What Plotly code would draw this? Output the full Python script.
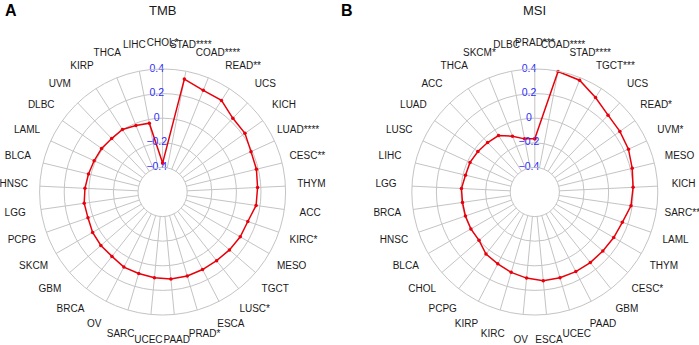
import plotly.graph_objects as go

# ---------------- data ----------------
tmb_categories = ["CHOL*", "STAD****", "COAD****", "READ**", "UCS", "KICH", "LUAD****",
                  "CESC**", "THYM", "ACC", "KIRC*", "MESO", "TGCT", "LUSC*", "ESCA",
                  "PRAD*", "PAAD", "UCEC", "SARC", "OV", "BRCA", "GBM", "SKCM", "PCPG",
                  "LGG", "HNSC", "BLCA", "LAML", "DLBC", "UVM", "KIRP", "THCA", "LIHC"]
tmb_values = [-0.365, 0.335, 0.29, 0.285, 0.228, 0.222, 0.19, 0.185, 0.173, 0.168,
              0.133, 0.129, 0.119, 0.11, 0.109, 0.112, 0.11, 0.10, 0.09, 0.087,
              0.066, 0.064, 0.057, 0.042, 0.044, 0.032, 0.02, 0.012, 0.009, 0.0,
              0.004, -0.017, -0.03]

msi_categories = ["PRAD***", "COAD****", "STAD****", "TGCT***", "UCS", "READ*", "UVM*",
                  "MESO", "KICH", "SARC**", "LAML", "THYM", "CESC*", "GBM", "PAAD",
                  "UCEC", "ESCA", "OV", "KIRC", "KIRP", "PCPG", "CHOL", "BLCA", "HNSC",
                  "BRCA", "LGG", "LIHC", "LUSC", "LUAD", "ACC", "THCA", "SKCM*", "DLBC"]
msi_values = [-0.168, 0.398, 0.379, 0.313, 0.263, 0.249, 0.237, 0.215, 0.2, 0.19,
              0.153, 0.141, 0.132, 0.13, 0.128, 0.127, 0.124, 0.103, 0.081, 0.057,
              0.042, 0.0, 0.0, -0.003, -0.006, -0.003, -0.02, -0.021, -0.032, -0.044,
              -0.054, -0.111, -0.16]

radial_ticks = [-0.4, -0.2, 0, 0.2, 0.4]
radial_ticktext = ["\u22120.4", "\u22120.2", "0", "0.2", "0.4"]
panel_titles = ["TMB", "MSI"]
panel_letters = ["A", "B"]

# ---------------- style ----------------
W, H = 699, 345
FONT = "Liberation Sans, Arial, sans-serif"
GRID = "#c4c4c4"
RED = "#e8000b"
BLUE = "#2b2bff"
centers_px = [162.6, 534.8]
letters_x_px = [3, 339]
cy_px, R_px = 192, 123      # outer radius of the grid
HOLE_FRAC = 0.2
LABEL_R_px = 149            # radius where category names are centred
PAD = "\u00a0" * 4          # nudges radial tick labels slightly left of the spoke


def dom(cx, r):
    return dict(x=[(cx - r) / W, (cx + r) / W], y=[1 - (cy_px + r) / H, 1 - (cy_px - r) / H])


fig = go.Figure()
panels = [(tmb_categories, tmb_values), (msi_categories, msi_values)]
layout_polars = {}
for k, (cats, vals) in enumerate(panels):
    names = ["polar%d" % n if n > 1 else "polar" for n in (1 + 3 * k, 2 + 3 * k, 3 + 3 * k)]
    main, lab, inner = names
    cx = centers_px[k]

    # data line
    fig.add_trace(go.Scatterpolar(
        r=vals + vals[:1], theta=cats + cats[:1], mode="lines+markers",
        line=dict(color=RED, width=1.5), marker=dict(color=RED, size=3.5),
        subplot=main, showlegend=False, hoverinfo="skip"))
    # radial tick labels along the first spoke
    fig.add_trace(go.Scatterpolar(
        r=radial_ticks, theta=[cats[0]] * len(radial_ticks), mode="text",
        text=[t + PAD for t in radial_ticktext], textposition="middle center",
        textfont=dict(family=FONT, size=10.5, color=BLUE), cliponaxis=False,
        subplot=main, showlegend=False, hoverinfo="skip"))
    # category names on an outer, invisible polar
    fig.add_trace(go.Scatterpolar(
        r=[1] * len(cats), theta=cats, mode="text", text=cats,
        textposition="middle center", textfont=dict(family=FONT, size=10, color="#1a1a1a"),
        cliponaxis=False, subplot=lab, showlegend=False, hoverinfo="skip"))

    ang = dict(direction="clockwise", rotation=90, categoryarray=cats, type="category",
               showticklabels=False, ticks="")
    layout_polars[main] = dict(
        domain=dom(cx, R_px), hole=HOLE_FRAC, bgcolor="rgba(0,0,0,0)",
        radialaxis=dict(range=[-0.4, 0.4], tickvals=radial_ticks, showticklabels=False,
                        showline=False, ticks="", gridcolor=GRID, gridwidth=1, angle=90),
        angularaxis=dict(**ang, gridcolor=GRID, gridwidth=1, linecolor=GRID, linewidth=1),
    )
    layout_polars[lab] = dict(
        domain=dom(cx, LABEL_R_px), bgcolor="rgba(0,0,0,0)",
        radialaxis=dict(range=[0, 1], visible=False),
        angularaxis=dict(**ang, showgrid=False, showline=False),
    )
    layout_polars[inner] = dict(
        domain=dom(cx, R_px * HOLE_FRAC), bgcolor="rgba(0,0,0,0)",
        radialaxis=dict(range=[0, 1], visible=False),
        angularaxis=dict(**ang, showgrid=False, showline=True, linecolor=GRID, linewidth=1),
    )

    fig.add_annotation(text=panel_titles[k], x=cx / W, y=1 - 10 / H, xref="paper",
                       yref="paper", showarrow=False, xanchor="center", yanchor="middle",
                       font=dict(family=FONT, size=13, color="#1a1a1a"))
    fig.add_annotation(text="<b>%s</b>" % panel_letters[k], x=letters_x_px[k] / W,
                       y=1 - 10 / H, xref="paper", yref="paper", showarrow=False,
                       xanchor="left", yanchor="middle",
                       font=dict(family=FONT, size=16, color="black"))

fig.update_layout(**layout_polars)
fig.update_layout(width=W, height=H, margin=dict(l=0, r=0, t=0, b=0),
                  paper_bgcolor="white", plot_bgcolor="white", showlegend=False)
fig.write_html("out.html")
